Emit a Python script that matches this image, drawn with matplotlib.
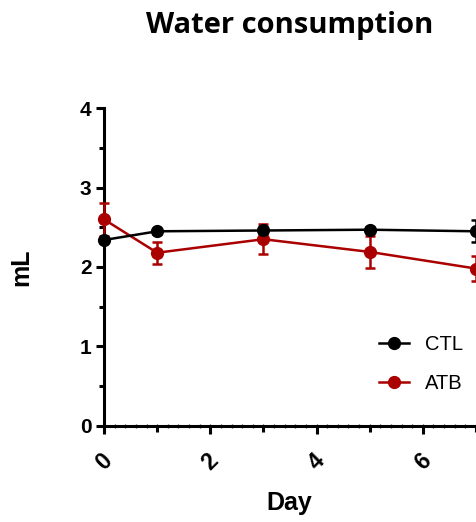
import matplotlib
matplotlib.use("Agg")
import matplotlib.pyplot as plt
from matplotlib.ticker import MultipleLocator
from matplotlib import font_manager

days = [0, 1, 3, 5, 7]
ctl_mean = [2.34, 2.45, 2.46, 2.47, 2.45]
ctl_err = [0.03, 0.03, 0.03, 0.03, 0.14]
atb_mean = [2.60, 2.18, 2.35, 2.19, 1.98]
atb_err = [0.21, 0.14, 0.19, 0.20, 0.16]
series_labels = ["CTL", "ATB"]

names = {f.name for f in font_manager.fontManager.ttflist}
narrow = "Liberation Sans Narrow" if "Liberation Sans Narrow" in names else "Liberation Sans"
label_size = 20 if narrow == "Liberation Sans Narrow" else 18

W, H = 476, 522
fig = plt.figure(figsize=(W/100, H/100), dpi=100)
ax = fig.add_axes([104/W, 1-425.7/H, (W-104)/W, (425.7-108.3)/H])

red = "#aa0000"
handles = []
for mean, err, col, lab, z in [(atb_mean, atb_err, red, series_labels[1], 3),
                               (ctl_mean, ctl_err, "black", series_labels[0], 4)]:
    c = ax.errorbar(days, mean, yerr=err, color=col, marker="o", markersize=8.5,
                    linewidth=1.8, elinewidth=1.8, capsize=3.6, capthick=1.8,
                    clip_on=False, zorder=z)
    for art in list(c.lines[1]) + list(c.lines[2]) + [c.lines[0]]:
        art.set_clip_on(False)
    c.lines[0].set_label(lab)
    handles.append(c.lines[0])
handles = handles[::-1]

ax.set_xlim(0, 7)
ax.set_ylim(0, 4)
for s in ["top", "right"]:
    ax.spines[s].set_visible(False)
for s in ["left", "bottom"]:
    ax.spines[s].set_linewidth(2.2)

ax.set_xticks([0, 2, 4, 6])
ax.xaxis.set_minor_locator(MultipleLocator(1))
ax.set_yticks([0, 1, 2, 3, 4])
ax.yaxis.set_minor_locator(MultipleLocator(0.5))
ax.tick_params(axis="both", which="major", length=6, width=2.2, direction="out")
ax.tick_params(axis="x", which="minor", length=4, width=2.2, direction="out")
ax.tick_params(axis="y", which="minor", length=3.5, width=2.2, direction="out")

# tiny sub-ticks on the x axis
sec = ax.secondary_xaxis("bottom")
sec.set_xticks([])
sec.xaxis.set_minor_locator(MultipleLocator(0.2))
sec.tick_params(which="minor", length=3, width=0.9, direction="inout", color="#333333")
sec.spines["bottom"].set_visible(False)

ax.set_yticklabels(["0", "1", "2", "3", "4"],
                   fontdict=dict(family="Liberation Sans", weight="bold", size=15))
ax.set_xticklabels(["0", "2", "4", "6"],
                   fontdict=dict(family="Liberation Sans", weight="bold", size=16.5),
                   rotation=45, ha="center", va="top")
ax.tick_params(axis="x", pad=11)
ax.tick_params(axis="y", pad=3)

ax.set_xlabel("Day", family=narrow, weight="bold", size=label_size)
ax.xaxis.set_label_coords(0.497, (425.7-491)/317.4)
ax.set_ylabel("mL", family=narrow, weight="bold", size=label_size)
ax.yaxis.set_label_coords((33-104)/372, 0.5)

fig.text((104+W)/2/W, 1-26/H, "Water consumption", ha="center", va="center",
         family="Open Sans", weight="bold", size=21)

leg = ax.legend(handles=handles, loc="center left", bbox_to_anchor=(379/W, 1-364/H),
                bbox_transform=fig.transFigure, frameon=False,
                prop=dict(family="Liberation Sans", size=14.5),
                handlelength=1.5, handletextpad=0.8, labelspacing=0.95,
                borderpad=0, borderaxespad=0)

fig.savefig("out.png", dpi=100)
